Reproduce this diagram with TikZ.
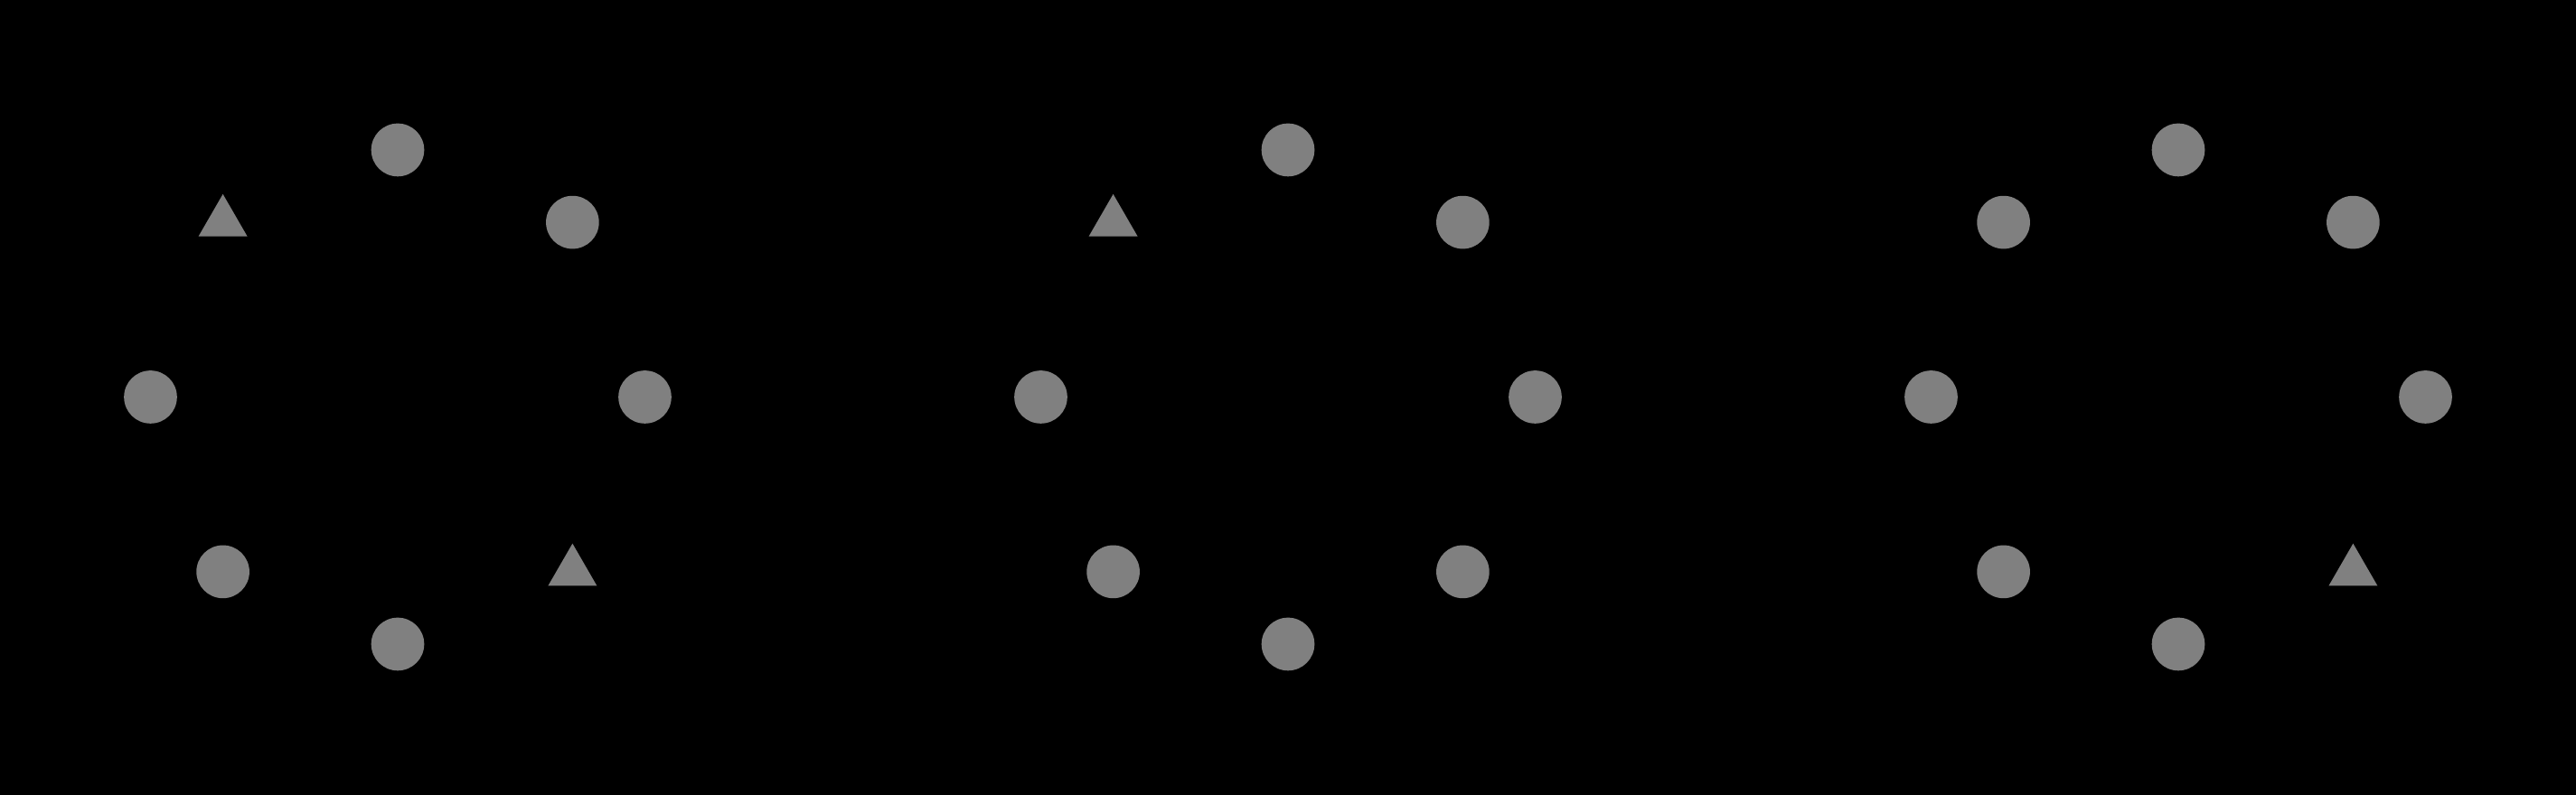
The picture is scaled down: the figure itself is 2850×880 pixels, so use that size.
\documentclass[tikz,border=0pt]{standalone}
\usetikzlibrary{shapes.geometric,calc}
\definecolor{dotgray}{RGB}{128,128,128}
\begin{document}
\begin{tikzpicture}[x=0.01cm,y=0.01cm,
  dot/.style={circle,fill=dotgray,draw=none,inner sep=0pt,minimum size=0.586cm},
  tri/.style={regular polygon,regular polygon sides=3,fill=dotgray,draw=none,inner sep=0pt,minimum size=0.624cm}]
\fill[black] (0,0) rectangle (2850,880);
\useasboundingbox (0,0) rectangle (2850,880);
\def\R{273.5}
% group 1
\foreach \a/\s in {0/dot,45/dot,90/dot,135/tri,180/dot,225/dot,270/dot,315/tri}
  \node[\s] (a\a) at ($(440,440.5)+(\a:\R)$) {};
% group 2
\foreach \a/\s in {0/dot,45/dot,90/dot,135/tri,180/dot,225/dot,270/dot,315/dot}
  \node[\s] (b\a) at ($(1425,440.5)+(\a:\R)$) {};
% group 3
\foreach \a/\s in {0/dot,45/dot,90/dot,135/dot,180/dot,225/dot,270/dot,315/tri}
  \node[\s] (c\a) at ($(2410,440.5)+(\a:\R)$) {};
\end{tikzpicture}
\end{document}
